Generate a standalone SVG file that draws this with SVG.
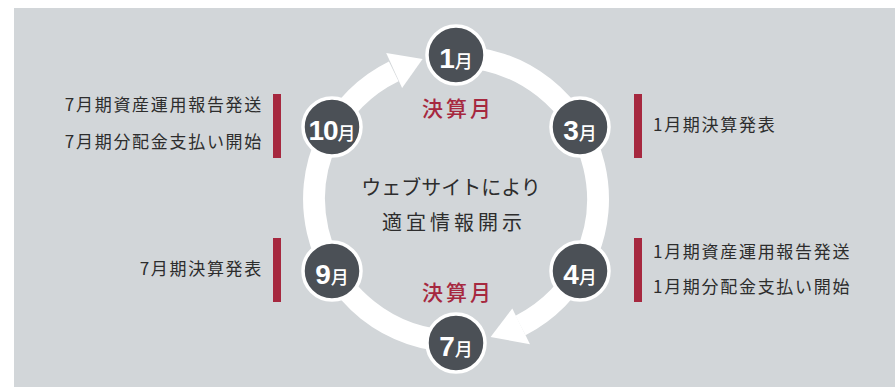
<svg xmlns="http://www.w3.org/2000/svg" width="895" height="387" viewBox="0 0 895 387">
<style>
.bg{fill:#d2d6d9}
.node circle{fill:#4b5056;stroke:#fff;stroke-width:3.5}
.lbl{font-family:"Liberation Sans","Noto Sans CJK JP",sans-serif;fill:#fff;text-anchor:middle}
.num{font-size:28px;font-weight:bold}
.mon{font-size:18px;font-family:"Noto Sans CJK JP",sans-serif;font-weight:500}
.red{font-family:"Noto Sans CJK JP",sans-serif;font-size:21px;font-weight:500;fill:#a6283f;text-anchor:middle;letter-spacing:3px}
.ctr{font-family:"Noto Sans CJK JP",sans-serif;font-size:20px;fill:#2d2d2d;text-anchor:middle}
.note{font-family:"Noto Sans CJK JP",sans-serif;font-size:17px;fill:#2d2d2d;letter-spacing:1.7px}
.bar{fill:#a6283f}
.band{fill:none;stroke:#fff;stroke-width:22}
</style>
<rect class="bg" x="14" y="8" width="881" height="379"/>
<g id="connectors">
<path class="band" d="M456 57 A142 142 0 0 1 520.5 325.5"/>
<path class="band" d="M456 341 A142 142 0 0 1 393.75 71.4"/>
<polygon points="386.2,53 402.1,88 422.6,58.9" fill="#fff"/>
<polygon points="512.3,308.4 530,344.3 490.6,337" fill="#fff"/>
</g>
<g id="m1" class="node"><circle cx="456" cy="55" r="29"/><text class="lbl" x="456" y="68"><tspan class="num">1</tspan><tspan class="mon">月</tspan></text></g>
<g id="m3" class="node"><circle cx="580" cy="127" r="29"/><text class="lbl" x="580" y="140"><tspan class="num">3</tspan><tspan class="mon">月</tspan></text></g>
<g id="m4" class="node"><circle cx="580" cy="271" r="29"/><text class="lbl" x="580" y="284"><tspan class="num">4</tspan><tspan class="mon">月</tspan></text></g>
<g id="m7" class="node"><circle cx="456" cy="343" r="29"/><text class="lbl" x="456" y="356"><tspan class="num">7</tspan><tspan class="mon">月</tspan></text></g>
<g id="m9" class="node"><circle cx="332" cy="271" r="29"/><text class="lbl" x="332" y="284"><tspan class="num">9</tspan><tspan class="mon">月</tspan></text></g>
<g id="m10" class="node"><circle cx="332" cy="127" r="29"/><text class="lbl" x="332" y="140"><tspan class="num" letter-spacing="-1">10</tspan><tspan class="mon">月</tspan></text></g>
<g id="center">
<text class="red" x="458" y="116">決算月</text>
<text class="red" x="458" y="300">決算月</text>
<text class="ctr" x="451" y="195">ウェブサイトにより</text>
<text class="ctr" x="454" y="230" letter-spacing="4">適宜情報開示</text>
</g>
<g id="note10">
<rect class="bar" x="273" y="94" width="8" height="64"/>
<text class="note" x="263" y="111" text-anchor="end">7月期資産運用報告発送</text>
<text class="note" x="263" y="148" text-anchor="end">7月期分配金支払い開始</text>
</g>
<g id="note3">
<rect class="bar" x="634" y="94" width="8" height="64"/>
<text class="note" x="653" y="131">1月期決算発表</text>
</g>
<g id="note9">
<rect class="bar" x="273" y="238" width="8" height="64"/>
<text class="note" x="263" y="275" text-anchor="end">7月期決算発表</text>
</g>
<g id="note4">
<rect class="bar" x="634" y="238" width="8" height="64"/>
<text class="note" x="653" y="258">1月期資産運用報告発送</text>
<text class="note" x="653" y="293">1月期分配金支払い開始</text>
</g>
</svg>
